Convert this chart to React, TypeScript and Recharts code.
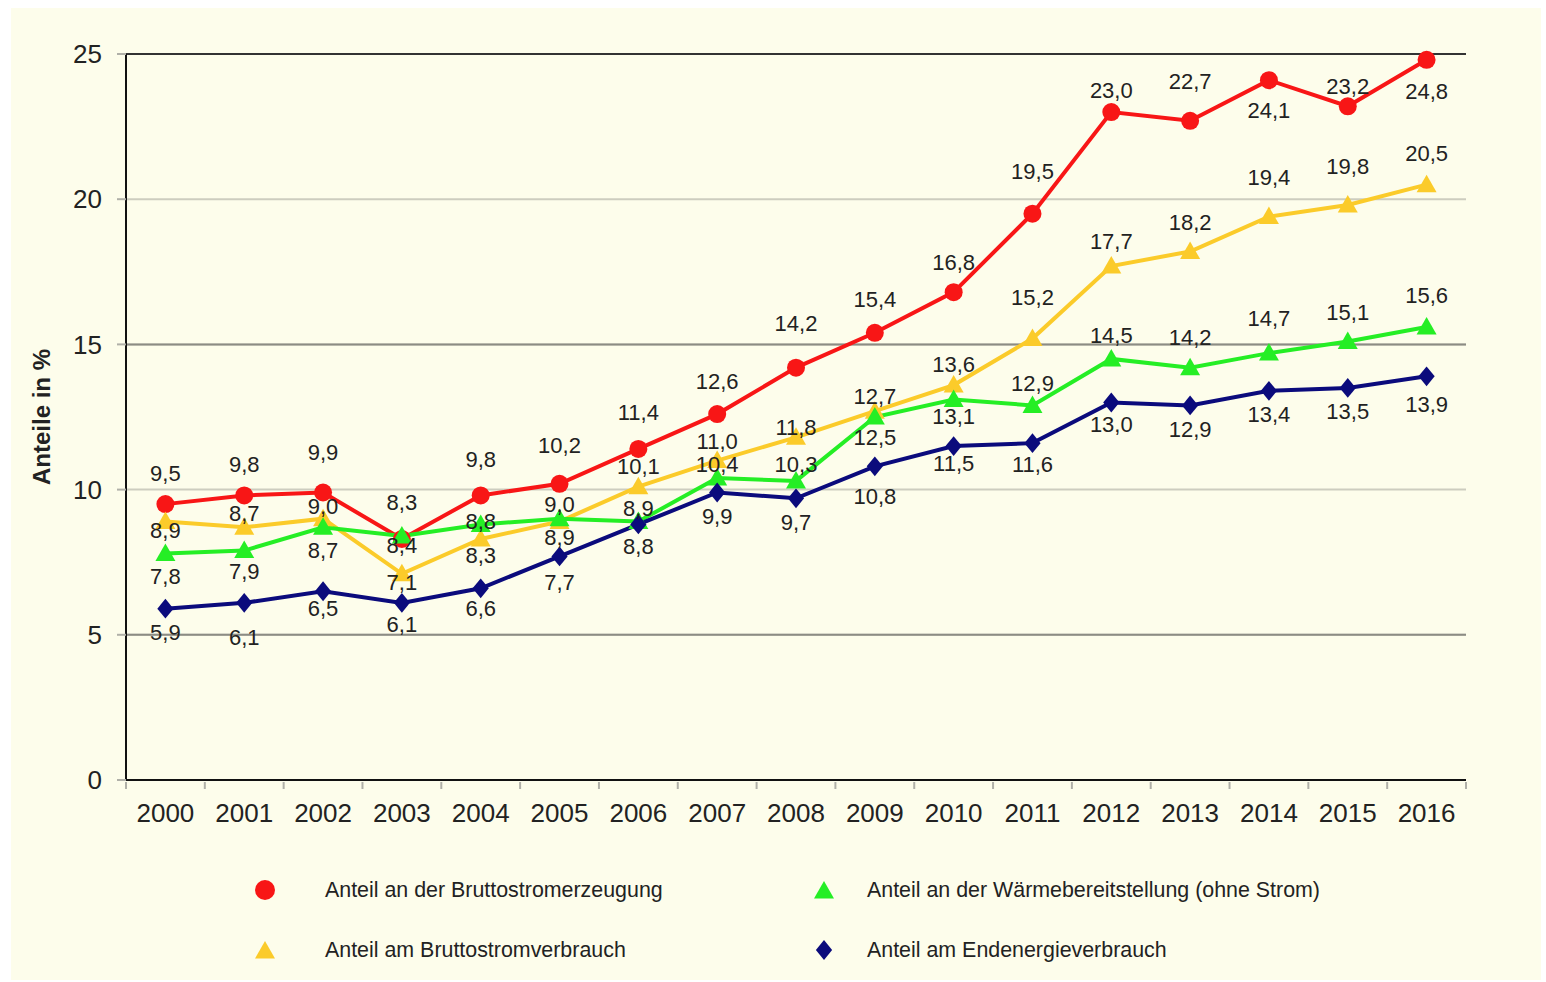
import React from 'react'
import { LineChart, Line, XAxis, YAxis, CartesianGrid, ReferenceLine, Legend } from 'recharts'

const years = ['2000', '2001', '2002', '2003', '2004', '2005', '2006', '2007', '2008', '2009', '2010', '2011', '2012', '2013', '2014', '2015', '2016']
const stromerzeugung = [9.5, 9.8, 9.9, 8.3, 9.8, 10.2, 11.4, 12.6, 14.2, 15.4, 16.8, 19.5, 23.0, 22.7, 24.1, 23.2, 24.8]
const stromverbrauch = [8.9, 8.7, 9.0, 7.1, 8.3, 8.9, 10.1, 11.0, 11.8, 12.7, 13.6, 15.2, 17.7, 18.2, 19.4, 19.8, 20.5]
const waerme = [7.8, 7.9, 8.7, 8.4, 8.8, 9.0, 8.9, 10.4, 10.3, 12.5, 13.1, 12.9, 14.5, 14.2, 14.7, 15.1, 15.6]
const endenergie = [5.9, 6.1, 6.5, 6.1, 6.6, 7.7, 8.8, 9.9, 9.7, 10.8, 11.5, 11.6, 13.0, 12.9, 13.4, 13.5, 13.9]
const yTicks = [0, 5, 10, 15, 20, 25]

const data = years.map((year, i) => ({
  year,
  erzeugung: stromerzeugung[i],
  verbrauch: stromverbrauch[i],
  waerme: waerme[i],
  endenergie: endenergie[i],
}))

// layout / style
const W = 1530
const H = 972
const MARGIN = { top: 46, right: 75, bottom: 150, left: 0 }
const Y_W = 115
const PLOT_W = W - MARGIN.left - MARGIN.right - Y_W
const BAND = PLOT_W / years.length
const FONT = 'Arial, "Liberation Sans", sans-serif'
const BG = '#fdfdeb'

const RED = '#f81616'
const YELLOW = '#fbcb2a'
const GREEN = '#25ee25'
const NAVY = '#0b0b7c'

// odd gridlines (5, 15) are drawn darker than the even ones in the original
const darkGrid = yTicks.filter((t) => t % 10 === 5)

// vertical offsets of the value labels (label placement differs per point in the original)
const RED_DY = [-31, -31, -40, -36, -36, -38, -36, -33, -44, -33, -30, -42, -22, -39, 30, -20, 32]
const YEL_DY = [9, -14, -12, 9, 17, 16, -20, -19, -10, -15, -21, -41, -24, -29, -39, -39, -31]
const GRN_DY = [23, 21, 23, 9, -3, -14, -13, -13, -16, 20, 17, -22, -23, -30, -35, -29, -31]
const BLU_DY = [24, 35, 17, 22, 20, 26, 22, 24, 24, 30, 17, 21, 22, 24, 24, 24, 28]

const fmt = (v: number) => v.toFixed(1).replace('.', ',')

const makeLabel = (dys: number[]) => (p: any) => (
  <text
    key={`l-${p.index}`}
    x={p.x}
    y={p.y + dys[p.index]}
    textAnchor="middle"
    dominantBaseline="central"
    fontSize={22}
    fontFamily={FONT}
    fill="#222"
  >
    {fmt(Number(p.value))}
  </text>
)

const Circle = ({ cx, cy, r, color }: any) => <circle cx={cx} cy={cy} r={r} fill={color} />
const Triangle = ({ cx, cy, s, color }: any) => (
  <path d={`M${cx},${cy - s} L${cx + s},${cy + s * 0.75} L${cx - s},${cy + s * 0.75} Z`} fill={color} />
)
const Diamond = ({ cx, cy, s, color }: any) => (
  <path d={`M${cx},${cy - s * 1.1} L${cx + s * 0.9},${cy} L${cx},${cy + s * 1.1} L${cx - s * 0.9},${cy} Z`} fill={color} />
)

const circleDot = (color: string) => (p: any) => <Circle key={`d-${p.index}`} cx={p.cx} cy={p.cy} r={9} color={color} />
const triDot = (color: string) => (p: any) => <Triangle key={`d-${p.index}`} cx={p.cx} cy={p.cy} s={10} color={color} />
const diaDot = (color: string) => (p: any) => <Diamond key={`d-${p.index}`} cx={p.cx} cy={p.cy} s={9} color={color} />

const XTick = (p: any) => {
  const last = p.index === years.length - 1
  return (
    <g>
      <line x1={p.x - BAND / 2} x2={p.x - BAND / 2} y1={p.y + 2} y2={p.y + 9} stroke="#b0b0a8" strokeWidth={2} />
      {last && <line x1={p.x + BAND / 2} x2={p.x + BAND / 2} y1={p.y + 2} y2={p.y + 9} stroke="#b0b0a8" strokeWidth={2} />}
      <text x={p.x} y={p.y + 42} textAnchor="middle" fontSize={26} fontFamily={FONT} fill="#222">
        {p.payload.value}
      </text>
    </g>
  )
}

const legendItems = [
  { label: 'Anteil an der Bruttostromerzeugung', color: RED, shape: 'circle', col: 0, row: 0 },
  { label: 'Anteil an der Wärmebereitstellung (ohne Strom)', color: GREEN, shape: 'triangle', col: 1, row: 0 },
  { label: 'Anteil am Bruttostromverbrauch', color: YELLOW, shape: 'triangle', col: 0, row: 1 },
  { label: 'Anteil am Endenergieverbrauch', color: NAVY, shape: 'diamond', col: 1, row: 1 },
]
const LEG_MARK_X = [254, 813]
const LEG_TEXT_X = [314, 856]
const LEG_ROW_Y = [20, 80]

const LegendContent = () => (
  <div style={{ position: 'relative', width: W, height: 110 }}>
    {legendItems.map((it) => (
      <React.Fragment key={it.label}>
        <svg
          width={28}
          height={28}
          style={{ position: 'absolute', left: LEG_MARK_X[it.col] - 14, top: LEG_ROW_Y[it.row] - 14 }}
        >
          {it.shape === 'circle' && <Circle cx={14} cy={14} r={10} color={it.color} />}
          {it.shape === 'triangle' && <Triangle cx={14} cy={15} s={10} color={it.color} />}
          {it.shape === 'diamond' && <Diamond cx={14} cy={14} s={9} color={it.color} />}
        </svg>
        <div
          style={{
            position: 'absolute',
            left: LEG_TEXT_X[it.col],
            top: LEG_ROW_Y[it.row] - 13,
            fontSize: 21.4,
            lineHeight: '26px',
            fontFamily: FONT,
            color: '#222',
            whiteSpace: 'nowrap',
          }}
        >
          {it.label}
        </div>
      </React.Fragment>
    ))}
  </div>
)

export default function App() {
  return (
    <div style={{ position: 'absolute', left: 0, top: 0, width: 1546, height: 982, background: '#fff' }}>
      <div style={{ position: 'absolute', left: 11, top: 8, width: W, height: H, background: BG, fontFamily: FONT }}>
        <LineChart width={W} height={H} data={data} margin={MARGIN}>
          <CartesianGrid vertical={false} stroke="#cdcdbf" strokeWidth={2} />
          {darkGrid.map((t) => (
            <ReferenceLine key={t} y={t} stroke="#8c8c84" strokeWidth={2} />
          ))}
          <XAxis
            dataKey="year"
            interval={0}
            padding={{ left: BAND / 2, right: BAND / 2 }}
            tickLine={false}
            tickSize={0}
            tickMargin={0}
            height={50}
            axisLine={{ stroke: '#111', strokeWidth: 2 }}
            tick={<XTick />}
          />
          <YAxis
            domain={[0, 25]}
            ticks={yTicks}
            width={Y_W}
            tickSize={9}
            tickMargin={15}
            tickLine={{ stroke: '#b0b0a8', strokeWidth: 2 }}
            axisLine={{ stroke: '#111', strokeWidth: 2 }}
            tick={{ fontSize: 26, fill: '#222', fontFamily: FONT }}
            label={{
              value: 'Anteile in %',
              angle: -90,
              position: 'center',
              dx: -27,
              style: { fontSize: 24, fontWeight: 'bold', fill: '#222', fontFamily: FONT },
            }}
          />
          <YAxis
            yAxisId="right"
            orientation="right"
            domain={[0, 25]}
            width={0}
            tick={false}
            tickLine={false}
            axisLine={{ stroke: '#c8c8bc', strokeWidth: 3 }}
          />
          <ReferenceLine y={25} stroke="#333" strokeWidth={2} />
          <Legend
            layout="horizontal"
            verticalAlign="middle"
            align="center"
            wrapperStyle={{ left: 0, top: 862, width: W, height: 110 }}
            content={<LegendContent />}
          />
          <Line
            dataKey="erzeugung"
            stroke={RED}
            strokeWidth={4}
            dot={circleDot(RED)}
            activeDot={false}
            label={makeLabel(RED_DY)}
            isAnimationActive={false}
          />
          <Line
            dataKey="verbrauch"
            stroke={YELLOW}
            strokeWidth={4}
            dot={triDot(YELLOW)}
            activeDot={false}
            label={makeLabel(YEL_DY)}
            isAnimationActive={false}
          />
          <Line
            dataKey="waerme"
            stroke={GREEN}
            strokeWidth={4}
            dot={triDot(GREEN)}
            activeDot={false}
            label={makeLabel(GRN_DY)}
            isAnimationActive={false}
          />
          <Line
            dataKey="endenergie"
            stroke={NAVY}
            strokeWidth={4}
            dot={diaDot(NAVY)}
            activeDot={false}
            label={makeLabel(BLU_DY)}
            isAnimationActive={false}
          />
        </LineChart>
      </div>
    </div>
  )
}
